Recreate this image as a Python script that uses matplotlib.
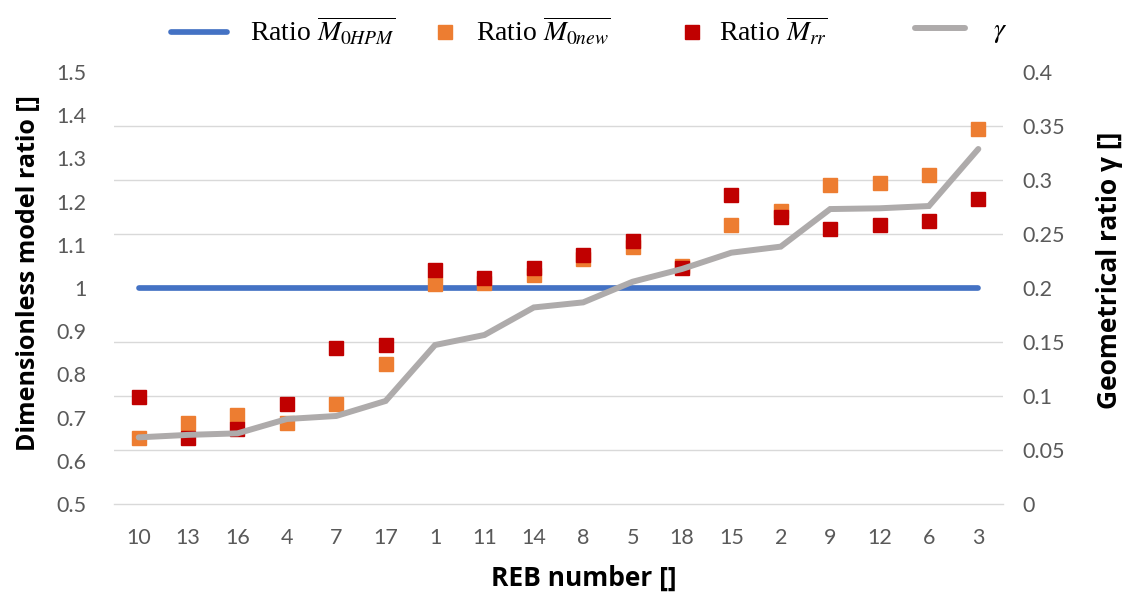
import matplotlib
matplotlib.use("Agg")
from matplotlib import pyplot as plt
from matplotlib.lines import Line2D
from matplotlib.ticker import MultipleLocator
import numpy as np

# REB numbers in plotted order
reb = ['10', '13', '16', '4', '7', '17', '1', '11', '14', '8', '5', '18', '15', '2', '9', '12', '6', '3']

ratio_hpm = [1.0] * 18
ratio_new = [0.653, 0.687, 0.705, 0.687, 0.731, 0.824, 1.009, 1.012, 1.031, 1.068, 1.095, 1.051,
             1.146, 1.178, 1.238, 1.244, 1.261, 1.367]
ratio_rr = [0.748, 0.653, 0.674, 0.732, 0.861, 0.868, 1.042, 1.022, 1.047, 1.076, 1.109, 1.046,
            1.215, 1.165, 1.137, 1.146, 1.155, 1.206]
gamma = [0.0617, 0.064, 0.0654, 0.0787, 0.0815, 0.0954, 0.1472, 0.1565, 0.182, 0.1867, 0.2058, 0.2176,
         0.2327, 0.2383, 0.2731, 0.2738, 0.2759, 0.3287]

blue = '#4472C4'
orange = '#ED7D31'
red = '#C00000'
grey = '#AEABAB'
tick_col = '#595959'

plt.rcParams['font.family'] = ['Lato', 'DejaVu Sans']
plt.rcParams['mathtext.fontset'] = 'stix'

W, H = 1124, 593
fig = plt.figure(figsize=(W / 100, H / 100), dpi=100)
ax = fig.add_axes([114 / W, 1 - 504 / H, 889 / W, 432 / H])
ax2 = ax.twinx()

x = np.arange(len(reb))

ax.plot(x, ratio_hpm, color=blue, lw=4.1, solid_capstyle='round', zorder=3)
ax.plot(x, ratio_new, ls='none', marker='s', ms=10.5, color=orange, mec=orange, zorder=4)
ax.plot(x, ratio_rr, ls='none', marker='s', ms=10, color=red, mec=red, zorder=5)
ax2.plot(x, gamma, color=grey, lw=4.3, solid_capstyle='round', solid_joinstyle='miter')

ax.set_xlim(-0.5, len(reb) - 0.5)
ax.set_ylim(0.5, 1.5)
ax2.set_ylim(0, 0.4)
# gridlines follow the secondary axis (0.05 steps = 0.125 on the left scale)
ax.yaxis.set_minor_locator(MultipleLocator(0.125))
ax.grid(which='minor', axis='y', color='#D9D9D9', lw=1.0, zorder=0)
ax.set_axisbelow(True)

ax.set_xticks(x)
ax.set_xticklabels(reb)
ax.set_yticks(np.arange(0.5, 1.51, 0.1))
ax.set_yticklabels(['0.5', '0.6', '0.7', '0.8', '0.9', '1', '1.1', '1.2', '1.3', '1.4', '1.5'])
ax2.set_yticks(np.arange(0, 0.41, 0.05))
ax2.set_yticklabels(['0', '0.05', '0.1', '0.15', '0.2', '0.25', '0.3', '0.35', '0.4'])

for a in (ax, ax2):
    for s in a.spines.values():
        s.set_visible(False)
    a.tick_params(which='both', length=0, labelsize=15.5, labelcolor=tick_col)
ax.spines['bottom'].set_visible(True)
ax.spines['bottom'].set_color('#D9D9D9')
ax.spines['bottom'].set_linewidth(1.0)
ax.tick_params(axis='x', pad=17)
ax.tick_params(axis='y', pad=20)
ax2.tick_params(axis='y', pad=14)

ax.set_xlabel('REB number []', family='Open Sans', size=19, weight='bold', labelpad=12)
ax.set_ylabel('Dimensionless model ratio []', family='Open Sans', size=18, weight='bold', labelpad=11)
ax2.set_ylabel('Geometrical ratio γ []', family='Open Sans', size=19, weight='bold', labelpad=22)
# Excel centres the titles slightly off the plot-area middle
ax.xaxis.label.set_x(0.529)
ax.yaxis.label.set_y(0.535)
ax2.yaxis.label.set_y(0.542)

# legend: one entry per box so each can sit where the original puts it
leg_font = {'family': 'Liberation Serif', 'size': 20}
leg_y = 1 - 31.7 / H
entries = [
    (Line2D([], [], color=blue, lw=4.1, solid_capstyle='round'), r'Ratio $\overline{M_{0HPM}}$', 171, 2.0, 0.86),
    (Line2D([], [], ls='none', marker='s', ms=10.5, color=orange), r'Ratio $\overline{M_{0new}}$', 431, 1.0, 0.61),
    (Line2D([], [], ls='none', marker='s', ms=10, color=red), r'Ratio $\overline{M_{rr}}$', 678, 1.0, 0.47),
    (Line2D([], [], color=grey, lw=4.3, solid_capstyle='round'), r'$\gamma$', 915, 1.8, 1.0),
]
for h, lab, x0, hl, tp in entries:
    fig.legend([h], [lab], loc='center left', bbox_to_anchor=(x0 / W, leg_y), frameon=False,
               prop=leg_font, handlelength=hl, handletextpad=tp, borderpad=0, borderaxespad=0)

fig.savefig('out.png', dpi=100)
